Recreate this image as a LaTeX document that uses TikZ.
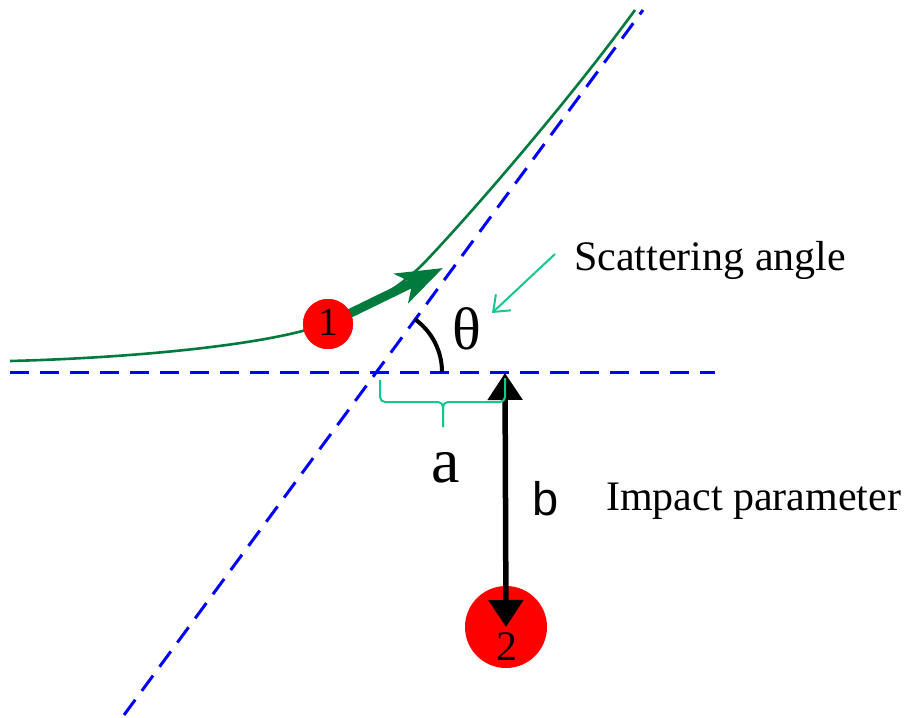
\documentclass[tikz,border=0pt]{standalone}
\usepackage{fontspec}
\setmainfont{Liberation Serif}
\newfontfamily\seriffont{Liberation Serif}
\newfontfamily\arialfont{Liberation Sans}
\usetikzlibrary{arrows.meta}
\definecolor{dashblue}{RGB}{0,0,255}
\definecolor{trajgreen}{RGB}{0,122,61}
\definecolor{teal}{RGB}{20,200,140}
\definecolor{ballred}{RGB}{255,0,0}
\tikzset{
  asym/.style={dashblue, line width=3pt, dash pattern=on 19pt off 11pt},
  ball/.style={circle, fill=ballred, inner sep=0pt},
  lbl/.style={inner sep=0pt, text=black},
  note/.style={teal, line width=2pt},
}
\newcommand{\fs}[1]{\fontsize{#1}{#1}\selectfont}
\begin{document}
\begin{tikzpicture}[x=1pt,y=-1pt]
\useasboundingbox (0,0) rectangle (909,717);
% asymptote lines
\coordinate (h1) at (10,372);
\coordinate (h2) at (715,372);
\coordinate (d1) at (124,715);
\coordinate (d2) at (643,10);
\coordinate (o) at (377,372);
\draw[asym] (h1) -- (h2);
\draw[asym] (d1) -- (d2);
% trajectory
\coordinate (tA) at (10,361);
\coordinate (tB) at (328,323);
\coordinate (tC) at (425,262);
\coordinate (tD) at (635,10);
\draw[trajgreen, line width=2.6pt] (tA) .. controls (130,358) and (272,345) .. (tB)
  .. controls (363,309) and (399,289) .. (tC)
  .. controls (466,219) and (564,107) .. (tD);
% scattering angle arc
\draw[black, line width=4pt] (442,372) arc[start angle=0, end angle=-53.6, radius=65];
% ball 1 and its arrow
\coordinate (tip1) at (443,268);
\node[ball, minimum size=50pt] (b1) at (328,324) {};
\draw[trajgreen, line width=9pt, -{Stealth[length=46pt, width=32pt, inset=12pt]}] (b1.center) -- (tip1);
\node[ball, minimum size=50pt] (b1top) at (328,324) {};
\node[lbl, font=\seriffont\fs{40}] (one) at (328,322) {1};
% ball 2
\node[ball, minimum size=82pt] (b2) at (506,627) {};
\coordinate (bt) at (505,373);
\draw[black, line width=5.5pt, {Triangle[length=27pt, width=34pt]}-{Triangle[length=27pt, width=34pt]}] (bt) -- (b2.center);
\node[lbl, font=\seriffont\fs{42}] (two) at (507,647) {2};
% brace
\draw[note, rounded corners=5pt] (380,380) -- (380,402) -- (443,402) -- (443,427);
\draw[note, rounded corners=5pt] (443,427) -- (443,402) -- (505,402) -- (505,378);
% labels
\node[lbl, font=\seriffont\fs{60}] (theta) at (467,329) {θ};
\node[lbl, font=\seriffont\fs{64}, anchor=base] (a) at (446,482) {a};
\node[lbl, font=\arialfont\fs{47}, anchor=base west] (b) at (532,515) {b};
\node[lbl, font=\seriffont\fs{42}, anchor=base west] (imp) at (606,510) {Impact parameter};
\node[lbl, font=\seriffont\fs{42}, anchor=base west] (scat) at (574,270) {Scattering angle};
% pointer arrow
\coordinate (p1) at (555,254);
\coordinate (p2) at (492,313);
\draw[note, -{Straight Barb[length=14pt, width=22pt]}] (p1) -- (p2);
\end{tikzpicture}
\end{document}
